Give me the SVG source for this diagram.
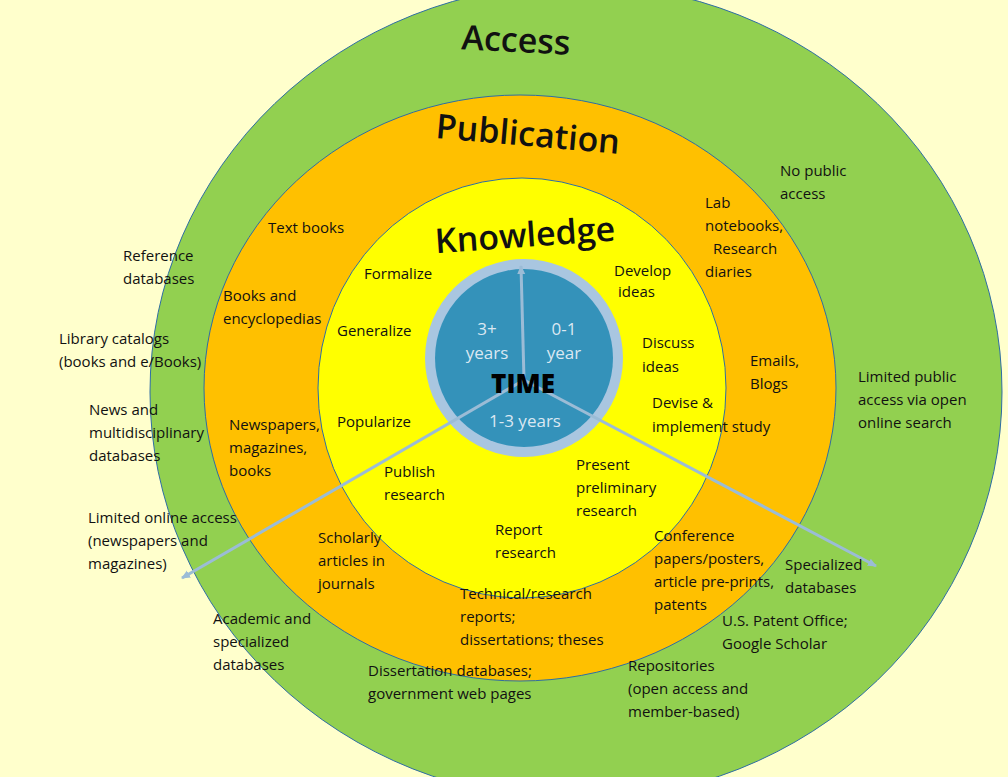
<svg xmlns="http://www.w3.org/2000/svg" width="1008" height="777" viewBox="0 0 1008 777">
<style>
.t{font-family:"Open Sans","Liberation Sans",sans-serif;font-size:15px;fill:#111}
.h{font-family:"Open Sans","Liberation Sans",sans-serif;font-size:34px;fill:#111;font-weight:600}
.w{font-family:"Open Sans","Liberation Sans",sans-serif;font-size:17px;fill:#dbe8f2}
</style>
<defs><marker id="a" markerWidth="10" markerHeight="10" refX="8" refY="5" orient="auto" markerUnits="userSpaceOnUse"><path d="M0,1 L9,5 L0,9 Z" fill="#9bbcd6"/></marker></defs>
<rect width="1008" height="777" fill="#FFFFCC"/>
<g id="access"><ellipse cx="576" cy="392" rx="426" ry="408" fill="#92D050" stroke="#2e6da4" stroke-width="1"/></g>
<g id="publication"><ellipse cx="520" cy="388" rx="316" ry="293" fill="#FFC000" stroke="#2e6da4" stroke-width="1"/></g>
<g id="knowledge"><ellipse cx="522" cy="388" rx="204" ry="210" fill="#FFFF00" stroke="#2e6da4" stroke-width="1"/></g>
<g id="time">
<circle cx="524" cy="358" r="99" fill="#A9C6E0"/>
<circle cx="524" cy="358" r="89" fill="#3492BA"/>
</g>
<g id="connectors" stroke="#9bbcd6" stroke-width="3" fill="none">
<line x1="524" y1="380" x2="182" y2="578" marker-end="url(#a)"/>
<line x1="524" y1="380" x2="876" y2="566" marker-end="url(#a)"/>
<line x1="524" y1="380" x2="521" y2="266" marker-end="url(#a)"/>
</g>
<g id="labels">
<text class="h" x="516" y="52" text-anchor="middle" transform="rotate(3 516 40)">Access</text>
<text class="h" x="528" y="146" text-anchor="middle" transform="rotate(5 528 134)">Publication</text>
<text class="h" x="525" y="247" text-anchor="middle" transform="rotate(-4 525 235)">Knowledge</text>
<text class="w" x="487" y="335" text-anchor="middle">3+</text>
<text class="w" x="487" y="359" text-anchor="middle">years</text>
<text class="w" x="564" y="335" text-anchor="middle">0-1</text>
<text class="w" x="564" y="359" text-anchor="middle">year</text>
<text class="w" x="525" y="427" text-anchor="middle">1-3 years</text>
<text x="523" y="393" text-anchor="middle" style="font-family:'Open Sans','Liberation Sans',sans-serif;font-size:26px;font-weight:800;fill:#000">TIME</text>
<text class="t" x="780" y="176">No public</text><text class="t" x="780" y="199">access</text>
<text class="t" x="705" y="208">Lab</text><text class="t" x="705" y="231">notebooks,</text><text class="t" x="713" y="254">Research</text><text class="t" x="705" y="277">diaries</text>
<text class="t" x="750" y="366">Emails,</text><text class="t" x="750" y="389">Blogs</text>
<text class="t" x="858" y="382">Limited public</text><text class="t" x="858" y="405">access via open</text><text class="t" x="858" y="428">online search</text>
<text class="t" x="614" y="276">Develop</text><text class="t" x="618" y="297">ideas</text>
<text class="t" x="642" y="348">Discuss</text><text class="t" x="642" y="372">ideas</text>
<text class="t" x="652" y="408">Devise &amp;</text><text class="t" x="652" y="432">implement study</text>
<text class="t" x="576" y="470">Present</text><text class="t" x="576" y="493">preliminary</text><text class="t" x="576" y="516">research</text>
<text class="t" x="495" y="535">Report</text><text class="t" x="495" y="558">research</text>
<text class="t" x="384" y="477">Publish</text><text class="t" x="384" y="500">research</text>
<text class="t" x="337" y="427">Popularize</text>
<text class="t" x="337" y="336">Generalize</text>
<text class="t" x="364" y="279">Formalize</text>
<text class="t" x="268" y="233">Text books</text>
<text class="t" x="223" y="301">Books and</text><text class="t" x="223" y="324">encyclopedias</text>
<text class="t" x="229" y="430">Newspapers,</text><text class="t" x="229" y="453">magazines,</text><text class="t" x="229" y="476">books</text>
<text class="t" x="318" y="543">Scholarly</text><text class="t" x="318" y="566">articles in</text><text class="t" x="318" y="589">journals</text>
<text class="t" x="460" y="599">Technical/research</text><text class="t" x="460" y="622">reports;</text><text class="t" x="460" y="645">dissertations; theses</text>
<text class="t" x="654" y="541">Conference</text><text class="t" x="654" y="564">papers/posters,</text><text class="t" x="654" y="587">article pre-prints,</text><text class="t" x="654" y="610">patents</text>
<text class="t" x="785" y="570">Specialized</text><text class="t" x="785" y="593">databases</text>
<text class="t" x="722" y="626">U.S. Patent Office;</text><text class="t" x="722" y="649">Google Scholar</text>
<text class="t" x="628" y="671">Repositories</text><text class="t" x="628" y="694">(open access and</text><text class="t" x="628" y="717">member-based)</text>
<text class="t" x="368" y="676">Dissertation databases;</text><text class="t" x="368" y="699">government web pages</text>
<text class="t" x="213" y="624">Academic and</text><text class="t" x="213" y="647">specialized</text><text class="t" x="213" y="670">databases</text>
<text class="t" x="88" y="523">Limited online access</text><text class="t" x="88" y="546">(newspapers and</text><text class="t" x="88" y="569">magazines)</text>
<text class="t" x="89" y="415">News and</text><text class="t" x="89" y="438">multidisciplinary</text><text class="t" x="89" y="461">databases</text>
<text class="t" x="59" y="344">Library catalogs</text><text class="t" x="59" y="367">(books and e/Books)</text>
<text class="t" x="123" y="261">Reference</text><text class="t" x="123" y="284">databases</text>
</g>
</svg>
